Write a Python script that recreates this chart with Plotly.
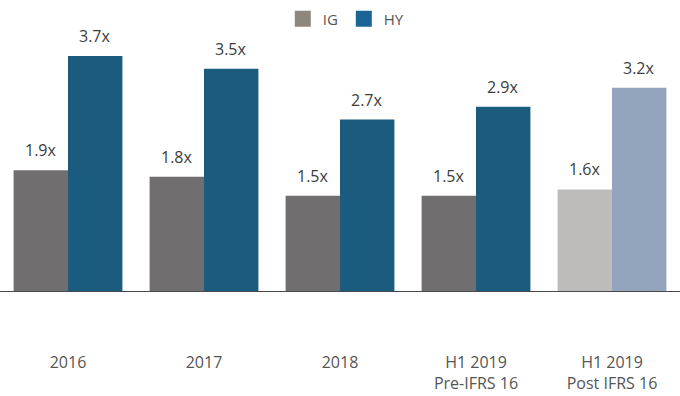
import plotly.graph_objects as go

categories = ["2016", "2017", "2018", "H1 2019<br>Pre-IFRS 16", "H1 2019<br>Post IFRS 16"]
ig_values = [1.9, 1.8, 1.5, 1.5, 1.6]
hy_values = [3.7, 3.5, 2.7, 2.9, 3.2]
ig_colors = ["#706e6e", "#706e6e", "#706e6e", "#706e6e", "#bebcbb"]
hy_colors = ["#1b5b7d", "#1b5b7d", "#1b5b7d", "#1b5b7d", "#93a5bd"]
ig_legend_color = "#8e877d"
hy_legend_color = "#1a6496"

FONT = "Open Sans"

fig = go.Figure()
fig.add_trace(go.Bar(name="IG", x=categories, y=ig_values, marker_color=ig_colors,
                     marker_line_width=0, showlegend=False))
fig.add_trace(go.Bar(name="HY", x=categories, y=hy_values, marker_color=hy_colors,
                     marker_line_width=0, showlegend=False))
# legend-only swatches
for nm, col in (("IG", ig_legend_color), ("HY", hy_legend_color)):
    fig.add_trace(go.Scatter(name=nm, x=[None], y=[None], mode="markers",
                             marker=dict(symbol="square", size=16, color=col), showlegend=True))

for vals, shift in ((ig_values, -27), (hy_values, 27)):
    for i, v in enumerate(vals):
        fig.add_annotation(x=i, y=v, text=f"{v:.1f}x", showarrow=False, xshift=shift,
                           yanchor="bottom", yshift=7,
                           font=dict(family=FONT, size=16, color="#3c3c3c"))

fig.update_layout(
    width=680, height=396,
    margin=dict(l=0, r=0, t=40, b=105, autoexpand=False),
    plot_bgcolor="white", paper_bgcolor="white",
    barmode="group", bargap=0.2, bargroupgap=0,
    font=dict(family=FONT, size=16, color="#555555"),
    legend=dict(orientation="h", x=0.5056, xanchor="center", y=1.084, yanchor="middle",
                font=dict(family=FONT, size=15, color="#555555"), itemwidth=30,
                entrywidth=16, entrywidthmode="pixels"),
    xaxis=dict(type="category", range=[-0.5, 4.5], showline=True, linecolor="#4a4a4a",
               linewidth=1.2, ticks="", showgrid=False, ticklabelstandoff=57, automargin=False,
               tickfont=dict(size=16, color="#555555")),
    yaxis=dict(range=[0, 3.953], visible=False, showgrid=False, zeroline=False, automargin=False),
)

fig.write_html("out.html", config={"displayModeBar": False},
               post_script="document.body.style.margin='0';")
